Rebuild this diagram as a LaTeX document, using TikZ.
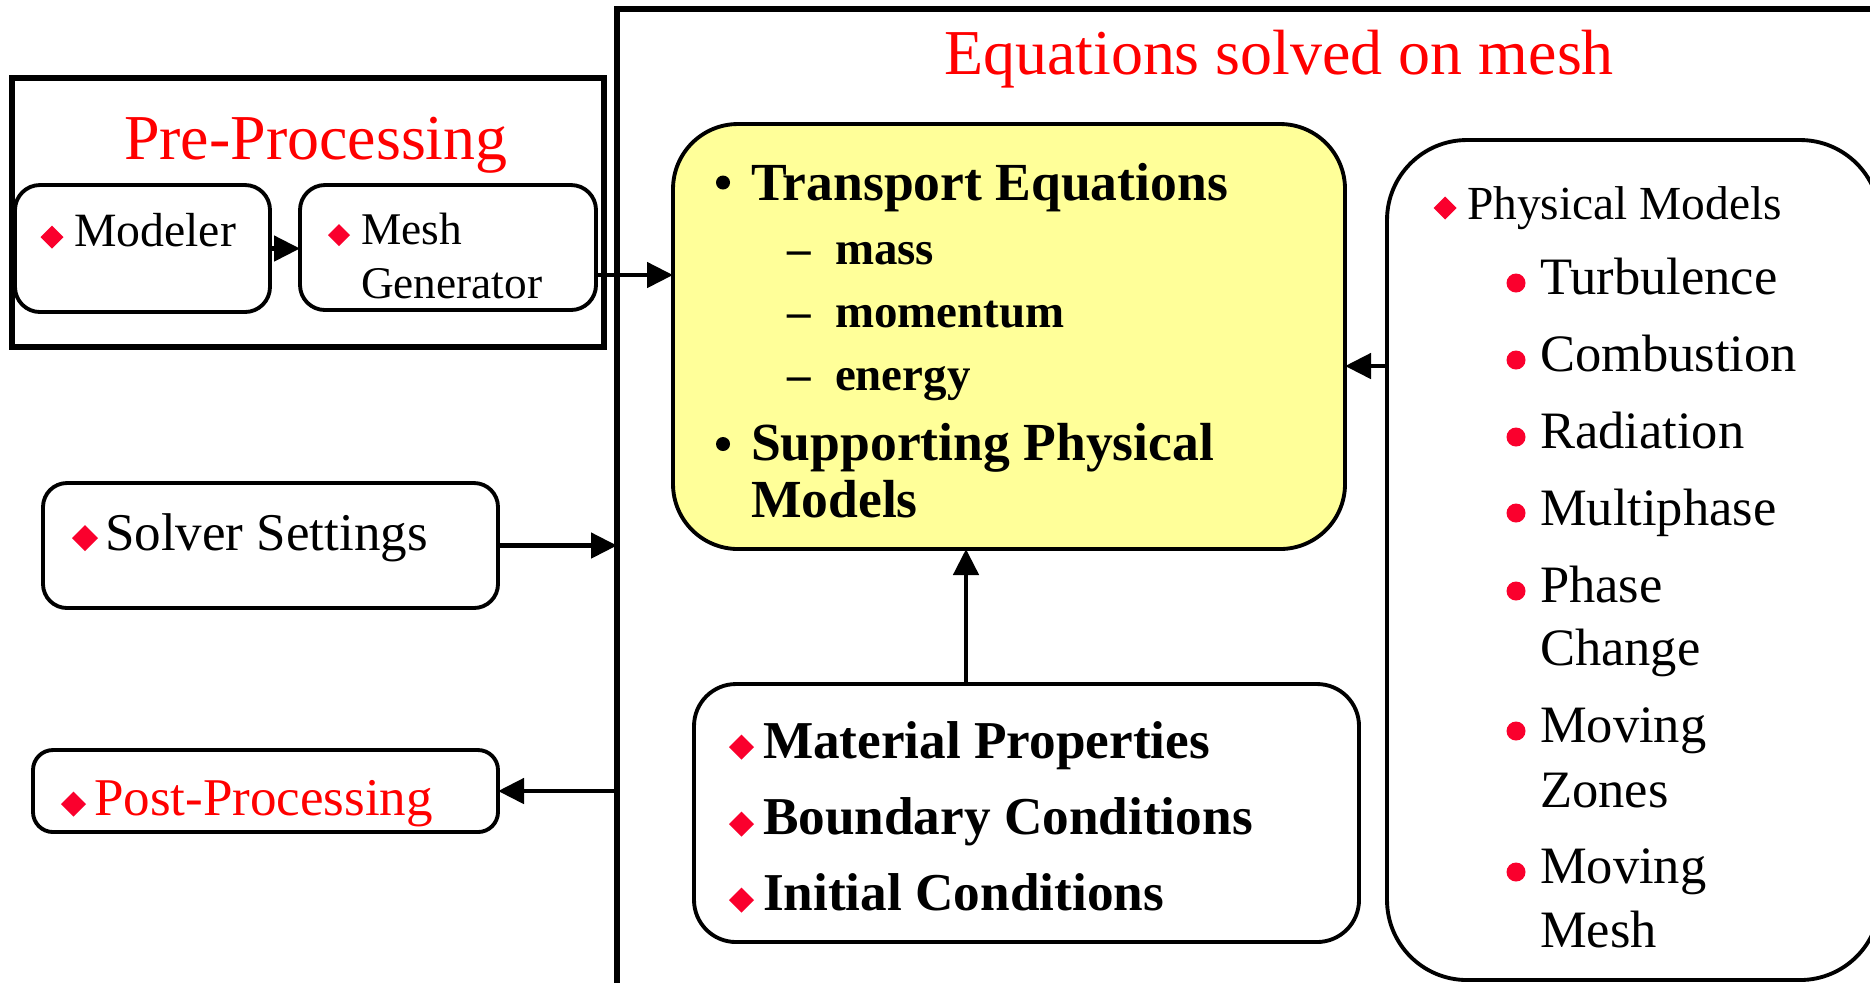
\documentclass[tikz,border=0pt]{standalone}
\usepackage{fontspec}
\setmainfont{Liberation Serif}
\usetikzlibrary{arrows.meta}
\definecolor{titlered}{RGB}{255,0,0}
\definecolor{markred}{RGB}{250,0,45}
\definecolor{paleyellow}{RGB}{255,255,153}
% red diamond marker: centre (#1,#2), half diagonal #3
\newcommand\redmark[3]{\fill[markred] (#1,#2) +(-#3,0) -- +(0,-#3) -- +(#3,0) -- +(0,#3) -- cycle;}
\newcommand\fs[1]{\fontsize{#1}{#1}\selectfont}

\begin{document}
\begin{tikzpicture}[x=0.1mm,y=-0.1mm,
  box/.style={draw, line width=1.1pt, inner sep=0pt, outer sep=0pt},
  frame/.style={draw, line width=1.45pt, inner sep=0pt, outer sep=0pt},
  txt/.style={anchor=base west, inner sep=0pt, outer sep=0pt},
  arr/.style={line width=1.35pt, -{Triangle[length=2.6mm,width=2.5mm]}}]

\useasboundingbox (0,0) rectangle (1870,982);
\fill[white] (0,0) rectangle (1870,982);

% outer frames
\node[frame, minimum width=59.2mm, minimum height=26.9mm] (pre) at (308,212.5) {};
\node[frame, minimum width=128.3mm, minimum height=100.1mm] (solve) at (1258.5,509.5) {};

% boxes
\node[box, rounded corners=2.5mm, minimum width=25.5mm, minimum height=12.7mm] (modeler) at (142.5,248.5) {};
\node[box, rounded corners=2.5mm, minimum width=29.6mm, minimum height=12.5mm] (mesh) at (448,247.5) {};
\node[box, fill=paleyellow, rounded corners=6.5mm, minimum width=67.2mm, minimum height=42.5mm] (yellow) at (1009,336.5) {};
\node[box, rounded corners=8mm, minimum width=49.3mm, minimum height=84mm] (phys) at (1633.5,560) {};
\node[box, rounded corners=2.4mm, minimum width=45.5mm, minimum height=12.5mm] (solver) at (270.5,545.5) {};
\node[box, rounded corners=2mm, minimum width=46.5mm, minimum height=8.2mm] (post) at (265.5,791) {};
\node[box, rounded corners=4.2mm, minimum width=66.5mm, minimum height=25.8mm] (mat) at (1026.5,813) {};

% connectors
\coordinate (meshout) at (0,275);
\coordinate (physout) at (0,366);
\coordinate (matout) at (966,0);
\draw[arr] (modeler.east) -- (modeler.east -| mesh.west);
\draw[arr] (mesh.east |- meshout) -- (yellow.west |- meshout);
\draw[arr] (phys.west |- physout) -- (yellow.east |- physout);
\draw[arr] (solver.east) -- (solver.east -| solve.west);
\draw[arr] (solve.west |- post.east) -- (post.east);
\draw[arr] (mat.north -| matout) -- (yellow.south -| matout);

% titles
\node[txt, text=titlered, font=\fs{18.2}] (pretitle) at (124,159) {Pre-Processing};
\node[txt, text=titlered, font=\fs{18.2}] (soltitle) at (944,74) {Equations solved on mesh};

% pre-processing
\redmark{52}{237}{11.5}
\node[txt, font=\fs{13.6}] (modtxt) at (74,246) {Modeler};
\redmark{339}{235}{11}
\node[txt, font=\fs{12.9}] (meshtxt) at (361,244) {Mesh};
\node[txt, font=\fs{12.9}] (gentxt) at (361,298) {Generator};

% transport equations
\fill (723,182.5) circle (0.7mm);
\node[txt, font=\fs{15.25}\bfseries] (tr) at (751,200) {Transport Equations};
\node[txt, font=\fs{13.35}\bfseries] (dash1) at (787,264) {\textendash};
\node[txt, font=\fs{13.35}\bfseries] (mass) at (835,264) {mass};
\node[txt, font=\fs{13.35}\bfseries] (dash2) at (787,327) {\textendash};
\node[txt, font=\fs{13.35}\bfseries] (mom) at (835,327) {momentum};
\node[txt, font=\fs{13.35}\bfseries] (dash3) at (787,390) {\textendash};
\node[txt, font=\fs{13.35}\bfseries] (ene) at (835,390) {energy};
\fill (723,444) circle (0.7mm);
\node[txt, font=\fs{15.25}\bfseries] (sup1) at (751,460) {Supporting Physical};
\node[txt, font=\fs{15.25}\bfseries] (sup2) at (751,517) {Models};

% physical models
\redmark{1445}{208}{11.5}
\node[txt, font=\fs{13.5}] (pmtitle) at (1467,219) {Physical Models};
\foreach \yy in {283,360,437,513,591,731,872}
  \fill[markred] (1516,\yy) circle (0.95mm);
\node[txt, font=\fs{14.95}] (pm1) at (1540,294) {Turbulence};
\node[txt, font=\fs{14.95}] (pm2) at (1540,371) {Combustion};
\node[txt, font=\fs{14.95}] (pm3) at (1540,448) {Radiation};
\node[txt, font=\fs{14.95}] (pm4) at (1540,525) {Multiphase};
\node[txt, font=\fs{14.95}] (pm5) at (1540,602) {Phase};
\node[txt, font=\fs{14.95}] (pm5b) at (1540,665) {Change};
\node[txt, font=\fs{14.95}] (pm6) at (1540,742) {Moving};
\node[txt, font=\fs{14.95}] (pm6b) at (1540,807) {Zones};
\node[txt, font=\fs{14.95}] (pm7) at (1540,883) {Moving};
\node[txt, font=\fs{14.95}] (pm7b) at (1540,947) {Mesh};

% solver settings and post-processing
\redmark{85}{538}{13}
\node[txt, font=\fs{15.1}] (soltxt) at (105,550) {Solver Settings};
\redmark{73.5}{804}{12.5}
\node[txt, text=titlered, font=\fs{15.1}] (posttxt) at (94,815) {Post-Processing};

% properties and conditions
\redmark{741.5}{747}{12.5}
\node[txt, font=\fs{15.15}\bfseries] (mp) at (763,758) {Material Properties};
\redmark{741.5}{824}{12.5}
\node[txt, font=\fs{15.15}\bfseries] (bc) at (763,834) {Boundary Conditions};
\redmark{741.5}{900}{12.5}
\node[txt, font=\fs{15.15}\bfseries] (ic) at (763,910) {Initial Conditions};
\end{tikzpicture}
\end{document}
